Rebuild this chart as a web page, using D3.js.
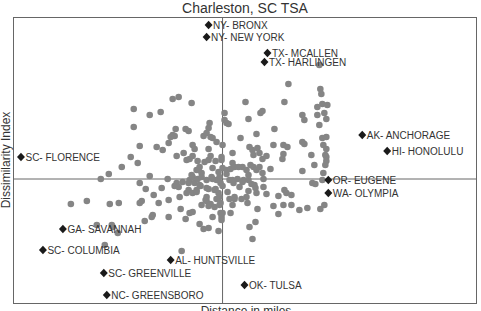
<!DOCTYPE html>
<html>
<head>
<meta charset="utf-8">
<script src="https://cdn.jsdelivr.net/npm/d3@7"></script>
<style>
  body { margin: 0; background: #fff; }
  text { font-family: "Liberation Sans", Arial, sans-serif; }
</style>
</head>
<body>
<svg id="chart" width="481" height="311"></svg>
<script>
// plot units: distance (0..465), dissimilarity (0..286)
let distance = [307,276,308,309,160,166,179,233,272,310,315,305,121,137,148,212,214,216,212,236,248,250,290,292,305,312,314,307,197,196,121,163,173,176,160,158,162,191,194,198,200,228,244,262,292,310,314,311,314,127,144,150,156,180,182,171,164,196,210,220,209,237,240,245,241,254,261,271,275,271,299,313,118,204,290,270,250,247,314,314,174,177,180,185,187,184,189,192,196,198,203,200,206,209,210,214,218,220,222,226,230,234,238,241,244,247,250,251,258,125,109,96,88,137,155,127,133,141,149,164,170,167,162,166,177,180,182,185,189,176,180,184,188,194,199,204,208,196,202,206,210,217,221,225,227,231,236,239,243,244,251,254,236,234,207,217,222,194,198,202,207,290,300,303,310,311,313,302,272,274,279,266,229,235,58,74,97,106,127,129,146,156,168,177,180,189,196,194,208,209,218,220,245,261,271,279,287,295,308,312,266,243,237,240,206,191,196,187,173,132,140,139,156,84,99,100,105,92,169,179,186,187,200,207,214,220,230,236,242,194,203,215,222,204,208,210,200,209,176,184,174,193];
let dissimilarity = [238,219,214,209,204,206,200,201,201,199,198,196,194,188,191,190,180,179,183,184,190,192,188,183,188,190,184,178,180,175,176,174,174,172,168,166,167,167,170,166,165,165,169,174,159,165,166,158,154,157,156,153,160,158,154,150,147,154,158,150,146,156,153,155,148,147,158,158,156,149,148,148,146,161,161,144,144,150,146,142,143,144,147,142,136,133,130,141,143,147,142,135,131,143,135,133,134,140,136,136,136,133,138,136,133,136,130,124,134,140,136,129,124,127,124,120,114,108,115,120,121,106,117,116,123,126,120,124,126,113,110,111,117,123,126,123,120,114,113,110,117,123,120,124,116,123,123,119,115,110,116,109,112,106,106,104,104,102,99,96,98,132,120,119,123,130,138,138,113,110,108,107,104,100,99,102,99,100,100,102,100,103,94,90,91,98,97,106,90,86,90,98,94,97,98,98,93,95,94,98,89,81,76,64,72,74,75,79,84,82,88,86,86,78,78,76,70,58,52,128,133,118,124,126,129,123,121,128,118,115,114,111,106,104,100,90,86,83,120,113,110,103];

let outlierNames = ["NY- BRONX","NY- NEW YORK","TX- MCALLEN","TX- HARLINGEN","AK- ANCHORAGE","HI- HONOLULU","SC- FLORENCE","OR- EUGENE","WA- OLYMPIA","GA- SAVANNAH","SC- COLUMBIA","AL- HUNTSVILLE","SC- GREENVILLE","OK- TULSA","NC- GREENSBORO"];
let outlierDistance = [196,194,255,252,350,375,8,316,316,50,30,158,91,232,94];
let outlierDissimilarity = [278,266,250,241,168,152,146,123,110,74,53,43,30,18,8];

let meanDistance = 210;
let meanDissimilarity = 124;

const svg = d3.select("#chart");
const margin = { top: 17, right: 4, bottom: 8, left: 13 };
const width = 481 - margin.left - margin.right;
const height = 311 - margin.top - margin.bottom;

const x = d3.scaleLinear().domain([0, 465]).range([margin.left, margin.left + width]);
const y = d3.scaleLinear().domain([0, 286]).range([margin.top + height, margin.top]);

// frame
svg.append("rect")
    .attr("x", x(0) + 0.5)
    .attr("y", y(286) + 0.5)
    .attr("width", x(465) - x(0) - 1)
    .attr("height", y(0) - y(286))
    .attr("fill", "none")
    .attr("stroke", "#666")
    .attr("stroke-width", 1);

// mean lines
svg.append("line")
    .attr("x1", x(meanDistance)).attr("x2", x(meanDistance))
    .attr("y1", y(0)).attr("y2", y(286))
    .attr("stroke", "#666").attr("stroke-width", 1);
svg.append("line")
    .attr("x1", x(0)).attr("x2", x(465))
    .attr("y1", y(meanDissimilarity)).attr("y2", y(meanDissimilarity))
    .attr("stroke", "#666").attr("stroke-width", 1);

let points = distance.map((d, i) => ({ dist: d, diss: dissimilarity[i] }));

svg.selectAll(".dot")
    .data(points)
    .enter()
    .append("circle")
    .attr("class", "dot")
    .attr("cx", d => x(d.dist))
    .attr("cy", d => y(d.diss))
    .attr("r", 3.3)
    .attr("fill", "#858585");

let outliers = outlierNames.map((n, i) => ({ name: n, dist: outlierDistance[i], diss: outlierDissimilarity[i] }));

let marks = svg.selectAll(".outlier")
    .data(outliers)
    .enter()
    .append("g")
    .attr("class", "outlier")
    .attr("transform", d => `translate(${x(d.dist)},${y(d.diss)})`);

marks.append("path")
    .attr("d", d3.symbol().type(d3.symbolDiamond).size(34))
    .attr("transform", "scale(1.27,0.8)")
    .attr("fill", "#1a1a1a");

marks.append("text")
    .attr("x", 4.5)
    .attr("y", 3.6)
    .attr("font-size", "10px")
    .attr("fill", "#333")
    .text(d => d.name);

// titles
svg.append("text")
    .attr("x", 245)
    .attr("y", 13)
    .attr("text-anchor", "middle")
    .attr("font-size", "14px")
    .attr("fill", "#333")
    .text("Charleston, SC TSA");

svg.append("text")
    .attr("x", 246)
    .attr("y", 315)
    .attr("text-anchor", "middle")
    .attr("font-size", "12px")
    .attr("fill", "#333")
    .text("Distance in miles");

svg.append("text")
    .attr("transform", "translate(10,160) rotate(-90)")
    .attr("text-anchor", "middle")
    .attr("font-size", "12px")
    .attr("fill", "#333")
    .text("Dissimilarity Index");
</script>
</body>
</html>
